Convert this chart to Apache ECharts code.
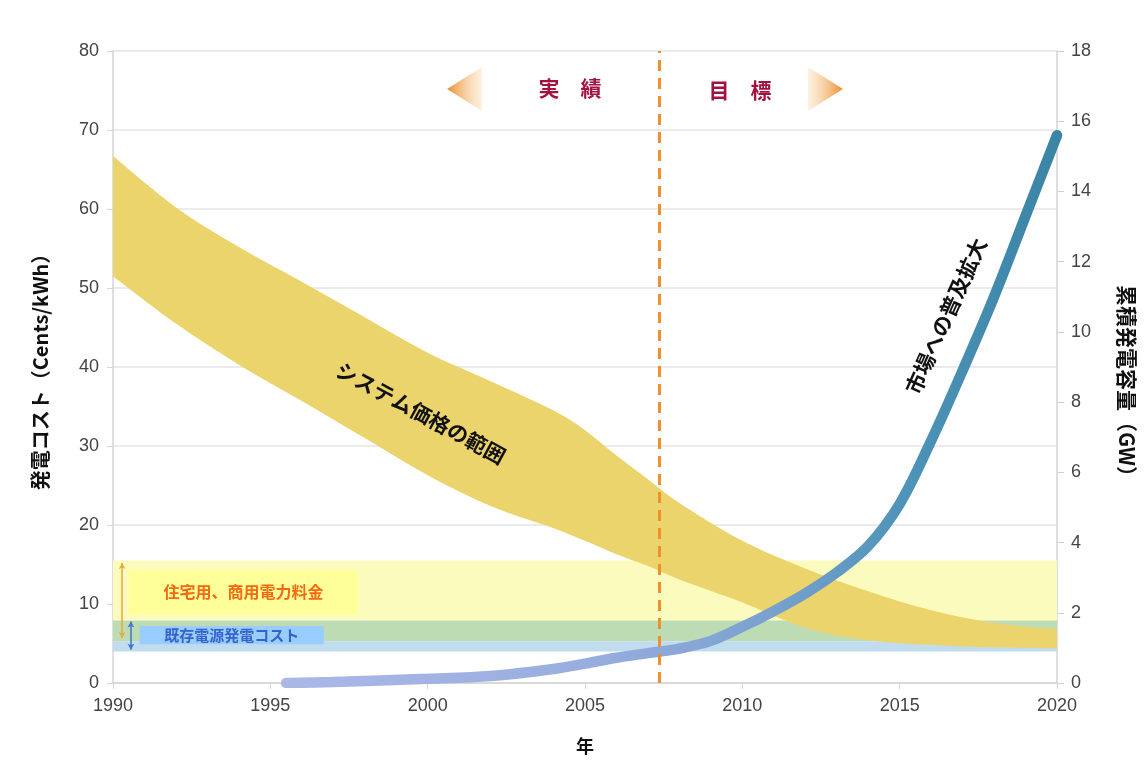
<!DOCTYPE html>
<html><head><meta charset="utf-8">
<script src="https://cdn.jsdelivr.net/npm/echarts@6/dist/echarts.min.js"></script>
<style>html,body{margin:0;padding:0;background:#fff}#c{width:1144px;height:760px}</style>
</head><body><div id="c"></div>
<script>
// ---- data ----
const priceYears = [1990,1992,1994,1996,1998,2000,2002,2004,2005,2006,2007,2008,2010,2012,2014,2016,2018,2020];
const priceUpper = [66.7,60.2,55.2,50.8,46.3,41.8,38.2,34.5,32.0,28.8,25.8,22.8,18.0,14.5,11.6,9.2,7.6,6.8];
const priceLower = [51.5,45.5,40.3,35.7,31.0,26.3,22.4,19.6,18.0,16.3,14.8,13.1,10.2,7.0,5.4,4.8,4.5,4.4];
const capYears = [1995.5,1997,2000,2002,2004,2005,2006,2007,2008,2009,2010,2011,2012,2013,2014,2015,2016,2017,2018,2019,2020];
const capGW    = [0,0.03,0.12,0.2,0.4,0.55,0.72,0.85,0.98,1.2,1.6,2.05,2.55,3.15,3.9,5.1,6.9,8.9,11.0,13.3,15.6];
const retailBand = [7.9, 15.5];    // 住宅用、商用電力料金
const existBand  = [5.3, 7.9];     // 既存電源発電コスト
const existBand2 = [4.0, 5.3];
const splitYear = 2007.35;
const xTickLabels = [1990,1995,2000,2005,2010,2015,2020];

const chart = echarts.init(document.getElementById('c'));
const tickFont = {fontFamily:'Liberation Sans, Arial, sans-serif', fontSize:18, color:'#444'};
const cjk = '"Noto Sans CJK JP", sans-serif';

const lowerData = priceYears.map((y,i)=>[y, priceLower[i]]);
const capData   = capYears.map((y,i)=>[y, capGW[i]]);

function bezierThrough(pts, k){
  let d = '';
  for (let i=0;i<pts.length-1;i++){
    const p0 = pts[i-1]||pts[i], p1 = pts[i], p2 = pts[i+1], p3 = pts[i+2]||pts[i+1];
    const c1 = [p1[0]+(p2[0]-p0[0])*k, p1[1]+(p2[1]-p0[1])*k];
    const c2 = [p2[0]-(p3[0]-p1[0])*k, p2[1]-(p3[1]-p1[1])*k];
    d += ' C'+c1[0]+' '+c1[1]+' '+c2[0]+' '+c2[1]+' '+p2[0]+' '+p2[1];
  }
  return d;
}
function renderBand(params, api){
  const up = priceYears.map((y,i)=>api.coord([y, priceUpper[i]]));
  const lo = priceYears.map((y,i)=>api.coord([y, priceLower[i]])).reverse();
  const k = 0.17;
  let d = 'M'+up[0][0]+' '+up[0][1] + bezierThrough(up,k) + ' L'+lo[0][0]+' '+lo[0][1] + bezierThrough(lo,k) + ' Z';
  return {type:'path', shape:{pathData:d}, style:{fill:'#ebd46c'}};
}

chart.setOption({
  animation:false,
  backgroundColor:'#fff',
  grid:{left:113, right:87, top:51, bottom:74},
  xAxis:{
    type:'value', min:1990, max:2020, interval:5,
    name:'年', nameLocation:'middle', nameGap:54,
    nameTextStyle:{fontFamily:cjk, fontWeight:'bold', fontSize:18, color:'#111'},
    axisLine:{show:true, lineStyle:{color:'#d4d4d4', width:1.5}},
    axisTick:{show:true, length:6, lineStyle:{color:'#d4d4d4'}},
    axisLabel:Object.assign({margin:14, formatter:v=>xTickLabels.includes(v)?String(v):''}, tickFont),
    splitLine:{show:false}
  },
  yAxis:[{
    type:'value', min:0, max:80, interval:10, position:'left',
    name:'発電コスト（Cents/kWh）', nameLocation:'middle', nameGap:63, nameRotate:90,
    nameTextStyle:{fontFamily:cjk, fontWeight:'bold', fontSize:20, color:'#111'},
    axisLine:{show:true, lineStyle:{color:'#d4d4d4', width:1.5}},
    axisTick:{show:true, length:6, lineStyle:{color:'#d4d4d4'}},
    axisLabel:Object.assign({margin:14}, tickFont),
    splitLine:{show:true, lineStyle:{color:'#e4e4e4', width:1.5}}
  },{
    type:'value', min:0, max:18, interval:2, position:'right',
    axisLine:{show:true, lineStyle:{color:'#d4d4d4', width:1.5}},
    axisTick:{show:true, length:7, lineStyle:{color:'#cfcfcf'}},
    axisLabel:Object.assign({margin:14}, tickFont),
    splitLine:{show:false}
  }],
  series:[
    { // background bands, labels, range arrows
      type:'line', name:'bands', yAxisIndex:0, data:lowerData,
      showSymbol:false, lineStyle:{width:0, opacity:0}, z:1, silent:true,
      markArea:{silent:true, data:[
        [{yAxis:retailBand[0], itemStyle:{color:'#fbfbbd'}},{yAxis:retailBand[1]}],
        [{yAxis:existBand[0], itemStyle:{color:'#bedcb4'}},{yAxis:existBand[1]}],
        [{yAxis:existBand2[0], itemStyle:{color:'#c0dcee'}},{yAxis:existBand2[1]}],
        [{xAxis:1990.5, yAxis:14.3, itemStyle:{color:'#ffff99'},
          label:{show:true, position:'inside', formatter:'住宅用、商用電力料金', fontFamily:cjk, fontWeight:'bold', fontSize:16, color:'#f26a12'}},
         {xAxis:1997.8, yAxis:8.7}],
        [{xAxis:1990.85, yAxis:7.2, itemStyle:{color:'#99ccff'},
          label:{show:true, position:'inside', formatter:'既存電源発電コスト', fontFamily:cjk, fontWeight:'bold', fontSize:15, color:'#3563c9'}},
         {xAxis:1996.7, yAxis:4.9}]
      ]},
      markLine:{silent:true, symbol:['arrow','arrow'], symbolSize:[5,6], label:{show:false}, data:[
        [{coord:[1990.29,15.2], lineStyle:{color:'#e8a93a', width:1.5, type:'solid'}},{coord:[1990.29,5.7]}],
        [{coord:[1990.57,7.8], lineStyle:{color:'#3f74c8', width:1.5, type:'solid'}},{coord:[1990.57,4.2]}]
      ]}
    },
    { // price range band
      type:'custom', name:'システム価格の範囲', yAxisIndex:0, data:[[priceYears[0], priceLower[0]]],
      renderItem:renderBand, z:2, silent:true, clip:true
    },
    { // cumulative capacity
      type:'line', name:'累積発電容量', yAxisIndex:1, data:capData,
      smooth:0.35, showSymbol:false, z:3,
      lineStyle:{width:10.5, cap:'round', color:new echarts.graphic.LinearGradient(0,0,1,0,[
        {offset:0, color:'#aab8e8'},{offset:0.4, color:'#98addf'},{offset:0.62, color:'#7aa2cf'},
        {offset:0.8, color:'#4e93b9'},{offset:1, color:'#3a84a4'}])}
    },
    { // divider between 実績 and 目標
      type:'line', data:[], yAxisIndex:0, z:5,
      markLine:{silent:true, symbol:['none','none'], label:{show:false},
        lineStyle:{color:'#f0902c', width:3, type:[11,7]},
        data:[{xAxis:splitYear}]}
    }
  ],
  graphic:[
    {type:'polygon', shape:{points:[[447,89],[482,67],[482,111]]},
      style:{fill:new echarts.graphic.LinearGradient(0,0,1,0,[{offset:0,color:'#ec8e2c'},{offset:1,color:'rgba(250,220,180,0.4)'}])}},
    {type:'polygon', shape:{points:[[843,89],[808,67],[808,111]]},
      style:{fill:new echarts.graphic.LinearGradient(1,0,0,0,[{offset:0,color:'#ec8e2c'},{offset:1,color:'rgba(250,220,180,0.4)'}])}},
    {type:'text', x:570, y:88, style:{text:'実　績', fontFamily:cjk, fontWeight:'bold', fontSize:21, fill:'#a3123e', align:'center', verticalAlign:'middle'}},
    {type:'text', x:740, y:90, style:{text:'目　標', fontFamily:cjk, fontWeight:'bold', fontSize:21, fill:'#a3123e', align:'center', verticalAlign:'middle'}},
    {type:'text', x:421, y:413, rotation:-0.496, style:{text:'システム価格の範囲', fontFamily:cjk, fontWeight:'bold', fontSize:21, fill:'#111', align:'center', verticalAlign:'middle'}, z:50},
    {type:'text', x:946, y:316, rotation:1.15, style:{text:'市場への普及拡大', fontFamily:cjk, fontWeight:'bold', fontSize:21, fill:'#111', align:'center', verticalAlign:'middle'}, z:50},
    {type:'text', x:1127, y:386, rotation:-Math.PI/2, style:{text:'累積発電容量（GW）', fontFamily:cjk, fontWeight:'bold', fontSize:21, fill:'#111', align:'center', verticalAlign:'middle'}}
  ]
});
</script>
</body></html>
